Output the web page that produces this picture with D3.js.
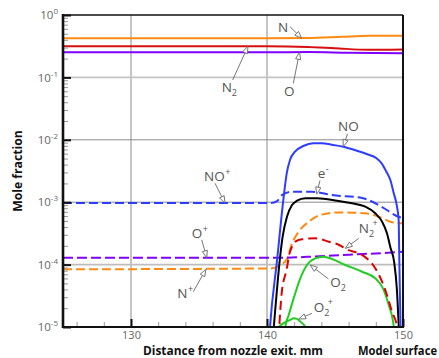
<!DOCTYPE html>
<html><head><meta charset="utf-8">
<script src="https://cdn.jsdelivr.net/npm/d3@7"></script>
<style>body{margin:0;background:#fff}svg{display:block}</style>
</head><body>
<svg id="c" width="439" height="358"></svg>
<script>
// ---------- data ----------
const xMajorTicks = [130, 140, 150];
const xMinorTicks = [126, 128, 132, 134, 136, 138, 142, 144, 146, 148];
const yMajorTicks = [1, 1e-1, 1e-2, 1e-3, 1e-4, 1e-5];
const yExponents = ['0', '-1', '-2', '-3', '-4', '-5'];

const xN = [125, 140, 143, 145.5, 147.5, 150];
const yN = [0.423, 0.423, 0.428, 0.447, 0.463, 0.466];
const xN2 = [125, 140, 143, 145, 147.5, 150];
const yN2 = [0.315, 0.315, 0.307, 0.293, 0.277, 0.279];
const xO = [125, 140, 143, 146, 150];
const yO = [0.252, 0.252, 0.255, 0.249, 0.244];

const xNO = [140.1, 140.22, 140.74, 141.2, 141.45, 141.69, 142.06, 142.67, 143.4, 144.02, 144.87, 145.61, 146.6, 147.33, 148.06, 148.43, 148.75, 149.07, 149.32, 149.56, 149.68, 149.73, 149.82, 149.87];
const yNO = [4e-6, 1e-5, 1.18e-4, 1.08e-3, 2.9e-3, 4.75e-3, 6.45e-3, 7.95e-3, 8.79e-3, 8.79e-3, 8.26e-3, 7.76e-3, 6.69e-3, 5.92e-3, 5.06e-3, 4.2e-3, 3.16e-3, 2.27e-3, 1.39e-3, 8.47e-4, 5.19e-4, 1.19e-4, 1e-5, 4e-6];

const xNOp = [125, 140.3, 140.74, 141.1, 141.84, 143.31, 144.78, 146.99, 148.46, 149.71, 150];
const yNOp = [9.7e-4, 9.7e-4, 1.04e-3, 1.3e-3, 1.47e-3, 1.47e-3, 1.3e-3, 1.17e-3, 8.37e-4, 5.8e-4, 5.58e-4];

const xE = [140.35, 140.5, 140.98, 141.15, 141.47, 141.84, 142.21, 142.82, 143.68, 145.15, 146.25, 147.23, 147.96, 148.46, 148.82, 149.07, 149.35, 149.55, 149.7, 149.78];
const yE = [4e-6, 1e-5, 1.43e-4, 2.8e-4, 5.86e-4, 9.0e-4, 1.057e-3, 1.156e-3, 1.156e-3, 1.057e-3, 9.6e-4, 8.47e-4, 6.64e-4, 4.88e-4, 3.18e-4, 1.9e-4, 1.1e-4, 4e-5, 9e-6, 4e-6];

const xNp = [125, 140.37, 140.98, 141.47, 141.84, 142.33, 143.07, 143.92, 145.15, 146.25, 147.23, 148.21, 149.07, 149.93];
const yNp = [8.4e-5, 8.7e-5, 9.86e-5, 1.23e-4, 2.19e-4, 3.37e-4, 4.87e-4, 6.24e-4, 6.84e-4, 6.79e-4, 6.64e-4, 5.86e-4, 4.87e-4, 4.59e-4];

const xOp = [125, 141, 143, 146, 148.5, 150];
const yOp = [1.29e-4, 1.29e-4, 1.33e-4, 1.44e-4, 1.53e-4, 1.6e-4];

const xN2p = [140.8, 140.9, 141.08, 141.45, 141.65, 141.84, 142.08, 142.57, 143.55, 144.54, 145.15, 146.0, 146.99, 147.96, 148.46, 148.82, 149.19, 149.56, 149.7];
const yN2p = [4e-6, 1e-5, 3.5e-5, 8.5e-5, 1.5e-4, 1.94e-4, 2.33e-4, 2.54e-4, 2.64e-4, 2.33e-4, 2.14e-4, 1.71e-4, 1.43e-4, 8.73e-5, 5.32e-5, 3.26e-5, 1.76e-5, 1.01e-5, 5e-6];

const xO2 = [141.2, 141.35, 141.6, 141.96, 142.45, 142.94, 143.55, 144.17, 144.78, 145.76, 146.99, 147.96, 148.46, 148.95, 149.32, 149.45];
const yO2 = [4e-6, 1.01e-5, 1.56e-5, 2.88e-5, 6.03e-5, 9.86e-5, 1.26e-4, 1.34e-4, 1.23e-4, 9.86e-5, 7.69e-5, 6.03e-5, 4.43e-5, 2.25e-5, 1.01e-5, 4e-6];

const xO2p = [140.75, 140.86, 141.71, 141.96, 142.21, 142.45, 142.82, 143.0];
const yO2p = [8e-6, 1e-5, 1.3e-5, 1.38e-5, 1.35e-5, 1.22e-5, 1e-5, 8e-6];

// ---------- layout ----------
const M = {l: 63, r: 403, t: 15, b: 327};
const x = d3.scaleLinear().domain([125, 150]).range([M.l, M.r]);
const y = d3.scaleLog().domain([1e-5, 1]).range([M.b, M.t]);
const svg = d3.select('#c');
const FONT = "'Open Sans', sans-serif";

svg.append('defs').append('clipPath').attr('id', 'clip')
  .append('rect').attr('x', M.l).attr('y', M.t).attr('width', M.r - M.l).attr('height', M.b - M.t);

// grid
[130, 140].forEach(v => svg.append('line').attr('x1', x(v)).attr('x2', x(v)).attr('y1', M.t).attr('y2', M.b)
  .attr('stroke', '#8a8a8a').attr('stroke-width', 1));
[[1e-1, '#c4c4c4', 1.6], [1e-2, '#8a8a8a', 1], [1e-3, '#8a8a8a', 1], [1e-4, '#bdbdbd', 1.6]].forEach(([v, c, w]) =>
  svg.append('line').attr('x1', M.l).attr('x2', M.r).attr('y1', y(v)).attr('y2', y(v)).attr('stroke', c).attr('stroke-width', w));

// series
const series = [
  {xs: xN, ys: yN, c: '#ff8a12', d: null},
  {xs: xN2, ys: yN2, c: '#d80f0f', d: null},
  {xs: xO, ys: yO, c: '#8000ff', d: null},
  {xs: xNp, ys: yNp, c: '#ff8a12', d: '9,4'},
  {xs: xOp, ys: yOp, c: '#8000ff', d: '10,4'},
  {xs: xO2p, ys: yO2p, c: '#22cc22', d: null},
  {xs: xO2, ys: yO2, c: '#22cc22', d: null},
  {xs: xN2p, ys: yN2p, c: '#e00000', d: '9,5'},
  {xs: xNOp, ys: yNOp, c: '#2e3cff', d: '9,4'},
  {xs: xE, ys: yE, c: '#000000', d: null},
  {xs: xNO, ys: yNO, c: '#2e3cff', d: null}
];
const line = d3.line().x(d => x(d[0])).y(d => y(d[1])).curve(d3.curveMonotoneX);
const gl = svg.append('g').attr('clip-path', 'url(#clip)');
series.forEach(s => {
  gl.append('path').attr('d', line(s.xs.map((v, i) => [v, s.ys[i]])))
    .attr('fill', 'none').attr('stroke', s.c).attr('stroke-width', 2)
    .attr('stroke-dasharray', s.d);
});

// axes
const yMinor = [];
for (let e = -5; e < 0; e++) for (let k = 2; k <= 9; k++) yMinor.push(k * Math.pow(10, e));
const gyMin = svg.append('g').attr('transform', `translate(${M.l},0)`)
  .call(d3.axisLeft(y).tickValues(yMinor).tickSize(-5).tickFormat(''));
gyMin.select('.domain').remove();
gyMin.selectAll('.tick line').attr('stroke', '#999').attr('stroke-width', 1);

const gy = svg.append('g').attr('transform', `translate(${M.l},0)`)
  .call(d3.axisLeft(y).tickValues(yMajorTicks).tickSize(-8).tickPadding(5).tickFormat(''));
gy.select('.domain').remove();
gy.selectAll('.tick line').attr('stroke', '#111').attr('stroke-width', 2);
gy.selectAll('.tick text').each(function(d, i) {
  const t = d3.select(this).attr('font-family', FONT).attr('font-size', 11.5).attr('fill', '#666').attr('dy', '0.32em');
  t.text('10');
  t.append('tspan').attr('dy', -5).attr('font-size', 8).text(yExponents[i]);
});

const gxMin = svg.append('g').attr('transform', `translate(0,${M.b})`)
  .call(d3.axisBottom(x).tickValues(xMinorTicks).tickSize(-5).tickFormat(''));
gxMin.select('.domain').remove();
gxMin.selectAll('.tick line').attr('stroke', '#999').attr('stroke-width', 1);

const gx = svg.append('g').attr('transform', `translate(0,${M.b})`)
  .call(d3.axisBottom(x).tickValues(xMajorTicks).tickSize(-8).tickPadding(4).tickFormat(d3.format('d')));
gx.select('.domain').remove();
gx.selectAll('.tick line').attr('stroke', '#111').attr('stroke-width', 2);
gx.selectAll('.tick text').attr('font-family', FONT).attr('font-size', 11).attr('fill', '#666');

// frame
svg.append('line').attr('x1', M.l).attr('x2', M.r).attr('y1', M.t).attr('y2', M.t).attr('stroke', '#111').attr('stroke-width', 1.7);
svg.append('line').attr('x1', M.r).attr('x2', M.r).attr('y1', M.t).attr('y2', M.b).attr('stroke', '#111').attr('stroke-width', 2);
svg.append('line').attr('x1', M.l).attr('x2', M.r + 1).attr('y1', M.b).attr('y2', M.b).attr('stroke', '#111').attr('stroke-width', 2.2);
svg.append('line').attr('x1', M.l).attr('x2', M.l).attr('y1', M.t - 1).attr('y2', M.b + 1).attr('stroke', '#111').attr('stroke-width', 2.6);

// axis titles
svg.append('text').attr('transform', `translate(22,${(M.t + M.b) / 2}) rotate(-90)`)
  .attr('text-anchor', 'middle').attr('font-family', FONT).attr('font-weight', 'bold').attr('font-size', 12.2)
  .attr('fill', '#111').text('Mole fraction');
svg.append('text').attr('x', 143).attr('y', 355).attr('font-family', FONT).attr('font-weight', 'bold')
  .attr('font-size', 12).attr('textLength', 180).attr('lengthAdjust', 'spacingAndGlyphs')
  .attr('fill', '#111').text('Distance from nozzle exit. mm');
svg.append('text').attr('x', 358).attr('y', 355).attr('font-family', FONT).attr('font-weight', 'bold')
  .attr('font-size', 11.6).attr('textLength', 79).attr('lengthAdjust', 'spacingAndGlyphs')
  .attr('fill', '#111').text('Model surface');

// annotations: anchor (data) + pixel offsets for text and arrow tail
const labels = [
  {t: 'N', sub: '', sup: '', ax: 142.55, av: 0.425, tx: -23.7, ty: -6.2, lx: -11.7, ly: -11.5},
  {t: 'N', sub: '2', sup: '', ax: 138.6, av: 0.315, tx: -26.3, ty: 45.2, lx: -15.3, ly: 33.7},
  {t: 'O', sub: '', sup: '', ax: 142.39, av: 0.252, tx: -15.5, ty: 44, lx: -6.2, ly: 31},
  {t: 'NO', sub: '', sup: '', ax: 145.61, av: 7.76e-3, tx: -5.3, ty: -15.8, lx: 4.2, ly: -12.8},
  {t: 'e', sub: '', sup: '-', ax: 143.65, av: 1.35e-3, tx: 1, ty: -15.7, lx: 3.3, ly: -13.5},
  {t: 'NO', sub: '', sup: '+', ax: 136.91, av: 9.7e-4, tx: -21, ty: -21.6, lx: -10, ly: -19.8},
  {t: 'O', sub: '', sup: '+', ax: 135.57, av: 1.29e-4, tx: -15, ty: -19.4, lx: -5, ly: -17.7},
  {t: 'N', sub: '', sup: '+', ax: 135.51, av: 8.4e-5, tx: -28.7, ty: 29, lx: -12.7, ly: 22.4},
  {t: 'N', sub: '2', sup: '+', ax: 145.76, av: 1.82e-4, tx: 13.4, ty: -15, lx: 13.4, ly: -10},
  {t: 'O', sub: '2', sup: '', ax: 143.18, av: 9.86e-5, tx: 20, ty: 21.7, lx: 18.2, ly: 14},
  {t: 'O', sub: '2', sup: '+', ax: 142.33, av: 1.34e-5, tx: 15, ty: -6.7, lx: 13.3, ly: -5.7}
];
const ga = svg.append('g');
function arrow(x0, y0, x1, y1) {
  const dx = x1 - x0, dy = y1 - y0, L = Math.hypot(dx, dy), ux = dx / L, uy = dy / L;
  const hl = 7, hw = 2.6, bx = x1 - ux * hl, by = y1 - uy * hl;
  ga.append('line').attr('x1', x0).attr('y1', y0).attr('x2', bx).attr('y2', by).attr('stroke', '#666').attr('stroke-width', 0.9);
  ga.append('path').attr('d', `M${x1},${y1}L${bx - uy * hw},${by + ux * hw}L${bx + uy * hw},${by - ux * hw}Z`)
    .attr('fill', '#fff').attr('stroke', '#666').attr('stroke-width', 0.9);
}
labels.forEach(l => {
  const px = x(l.ax), py = y(l.av);
  arrow(px + l.lx, py + l.ly, px, py);
  const t = ga.append('text').attr('x', px + l.tx).attr('y', py + l.ty).attr('font-family', FONT)
    .attr('font-size', 13.5).attr('fill', '#555').text(l.t);
  if (l.sub) t.append('tspan').attr('dy', 4).attr('font-size', 9).text(l.sub);
  if (l.sup) t.append('tspan').attr('dx', l.sub ? -1.5 : 0.5).attr('dy', l.sub ? -11 : -6.5).attr('font-size', 9).text(l.sup);
});
</script>
</body></html>
